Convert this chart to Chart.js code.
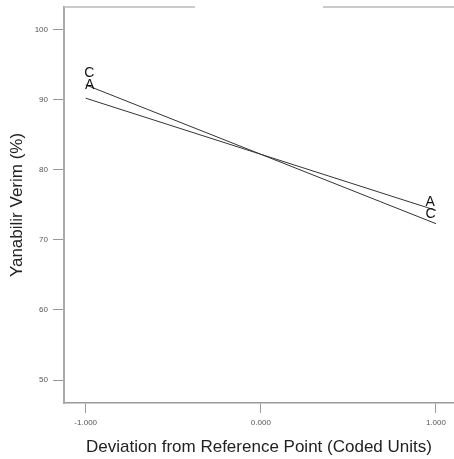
<!DOCTYPE html>
<html lang="en">
<head>
    <meta charset="UTF-8">
    <title>Perturbation Plot</title>
    <style>
        body { margin: 0; background: #fff; }
        #wrap { width: 454px; height: 459px; }
    </style>
    <script src="https://cdn.jsdelivr.net/npm/chart.js"></script>
</head>
<body>
    <div id="wrap"><canvas id="chart" width="454" height="459"></canvas></div>

    <script>
        // Data
        const deviations = [-1, 0, 1];
        const seriesNames = ['A', 'C'];
        const seriesA = [90.2, 82.2, 74.2];
        const seriesC = [92.1, 82.2, 72.3];
        const xTicks = [-1, 0, 1];
        const yTicks = [50, 60, 70, 80, 90, 100];

        const FONT = '"Liberation Sans", Arial, sans-serif';

        // letters next to the ends of each line
        const endLabels = {
            id: 'endLabels',
            afterDatasetsDraw(chart) {
                const ctx = chart.ctx;
                // offsets from first / last point, per series
                const offs = {
                    A: { first: [4, -13.5], last: [-5.7, -8] },
                    C: { first: [3.5, -11.5], last: [-5.5, -9.5] }
                };
                ctx.save();
                ctx.font = '14px ' + FONT;
                ctx.fillStyle = '#111';
                ctx.textAlign = 'center';
                ctx.textBaseline = 'middle';
                chart.data.datasets.forEach((ds, i) => {
                    const pts = chart.getDatasetMeta(i).data;
                    const o = offs[ds.label];
                    const p0 = pts[0], p1 = pts[pts.length - 1];
                    ctx.fillText(ds.label, p0.x + o.first[0], p0.y + o.first[1]);
                    ctx.fillText(ds.label, p1.x + o.last[0], p1.y + o.last[1]);
                });
                ctx.restore();
            }
        };

        // top frame line (with the pale gap seen in the original)
        const topFrame = {
            id: 'topFrame',
            beforeDatasetsDraw(chart) {
                const { ctx, chartArea } = chart;
                ctx.save();
                ctx.strokeStyle = '#bbb';
                ctx.lineWidth = 1.5;
                ctx.beginPath();
                ctx.moveTo(chartArea.left, chartArea.top);
                ctx.lineTo(195, chartArea.top);
                ctx.moveTo(323, chartArea.top);
                ctx.lineTo(chartArea.right, chartArea.top);
                ctx.stroke();
                ctx.restore();
            }
        };

        new Chart(document.getElementById('chart'), {
            type: 'line',
            data: {
                labels: deviations,
                datasets: [
                    { label: seriesNames[0], data: deviations.map((x, i) => ({ x: x, y: seriesA[i] })) },
                    { label: seriesNames[1], data: deviations.map((x, i) => ({ x: x, y: seriesC[i] })) }
                ].map(ds => Object.assign(ds, {
                    borderColor: '#333',
                    borderWidth: 1,
                    pointRadius: 0,
                    tension: 0,
                    fill: false
                }))
            },
            options: {
                responsive: false,
                animation: false,
                layout: { padding: { top: 7, right: 0, left: 0, bottom: 0 } },
                plugins: { legend: { display: false }, tooltip: { enabled: false } },
                scales: {
                    x: {
                        type: 'linear',
                        min: -1.124,
                        max: 1.103,
                        afterBuildTicks: s => { s.ticks = xTicks.map(v => ({ value: v })); },
                        afterFit: s => { s.height = 56; s.paddingLeft = 0; s.paddingRight = 0; },
                        ticks: {
                            font: { size: 8, family: FONT },
                            color: '#555',
                            padding: 5,
                            maxRotation: 0,
                            callback: v => v.toFixed(3)
                        },
                        grid: { drawOnChartArea: false, tickLength: 10, color: '#999', lineWidth: 1 },
                        border: { color: '#999', width: 1.5 },
                        title: {
                            display: true,
                            text: 'Deviation from Reference Point (Coded Units)',
                            font: { size: 17, family: FONT },
                            color: '#222',
                            padding: { top: 0, bottom: 1 }
                        }
                    },
                    y: {
                        min: 46.72,
                        max: 103.21,
                        afterBuildTicks: s => { s.ticks = yTicks.map(v => ({ value: v })); },
                        afterFit: s => { s.width = 64; s.paddingTop = 0; s.paddingBottom = 0; },
                        ticks: {
                            font: { size: 8, family: FONT },
                            color: '#555',
                            padding: 5
                        },
                        grid: { drawOnChartArea: false, tickLength: 11, color: '#999', lineWidth: 1 },
                        border: { color: '#aaa', width: 2 },
                        title: {
                            display: true,
                            text: 'Yanabilir Verim (%)',
                            font: { size: 17, family: FONT },
                            color: '#222',
                            padding: { top: 7.3, bottom: 0 }
                        }
                    }
                }
            },
            plugins: [topFrame, endLabels]
        });
    </script>
</body>
</html>
